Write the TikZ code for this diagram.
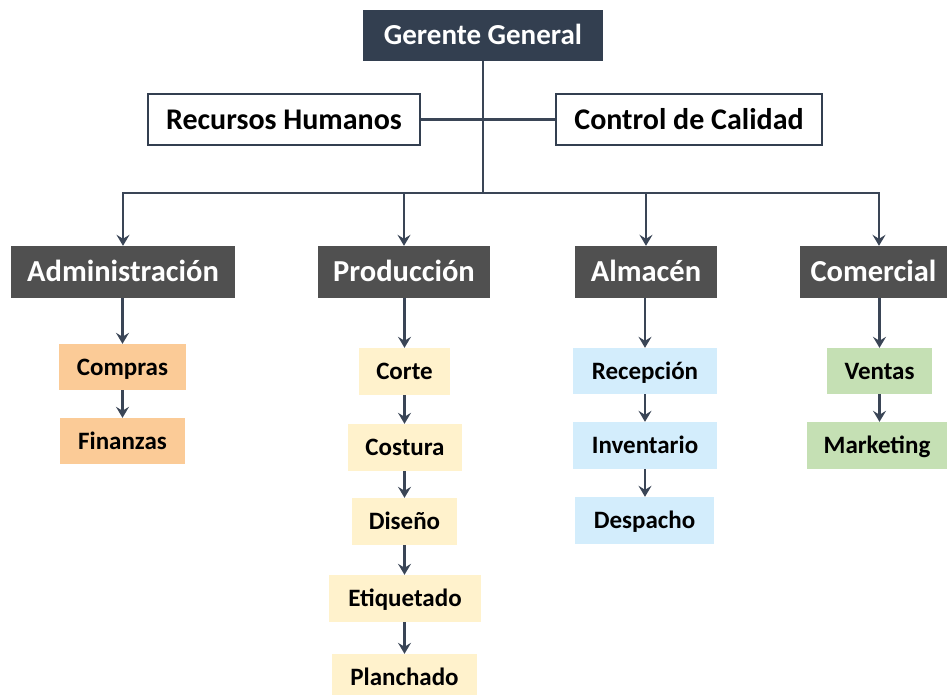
\documentclass[tikz,border=0pt]{standalone}
\usepackage{fontspec}
\setmainfont{Carlito}
\usetikzlibrary{arrows.meta}

\definecolor{navy}{HTML}{333F50}
\definecolor{darkgray}{HTML}{505050}
\definecolor{peach}{HTML}{FBCB97}
\definecolor{cream}{HTML}{FFF2CC}
\definecolor{skyblue}{HTML}{D3EDFC}
\definecolor{leaf}{HTML}{C5E0B4}
\definecolor{linecol}{HTML}{3A4556}

\tikzset{
  box/.style={rectangle, inner sep=0pt, text height=18pt, text depth=2pt,
    font=\bfseries\fontsize{25}{30}\selectfont},
  topbox/.style={box, fill=navy, text=white, text height=20.8pt, text depth=2.1pt,
    font=\bfseries\fontsize{29}{34}\selectfont},
  staffbox/.style={box, draw=navy, line width=2pt, fill=white, text height=21.5pt, text depth=2.2pt,
    font=\bfseries\fontsize{30}{35}\selectfont},
  areabox/.style={box, fill=darkgray, text=white, text height=21.8pt, text depth=2.2pt,
    font=\bfseries\fontsize{30.5}{36}\selectfont},
  link/.style={draw=linecol, line width=2.3pt},
  arr/.style={link, -{Stealth[length=11pt,width=13pt,inset=4pt]}}
}

\begin{document}
\begin{tikzpicture}[x=1pt, y=-1pt]
\useasboundingbox (0,0) rectangle (947,694);

% TOP
\node[topbox, minimum width=240, minimum height=51] (gg) at (483,35.5) {Gerente General};
\node[staffbox, minimum width=272, minimum height=51] (rh) at (284,119.5) {Recursos Humanos};
\node[staffbox, minimum width=266, minimum height=51] (cc) at (689,119.5) {Control de Calidad};
\coordinate (bus) at (483,193);
\draw[link] (gg) -- (bus);
\draw[link] (rh) -- (cc);

% AREAS
\node[areabox, minimum width=224, minimum height=52] (adm) at (123,272) {Administración};
\node[areabox, minimum width=172, minimum height=52] (prod) at (404,272) {Producción};
\node[areabox, minimum width=142, minimum height=52] (alm) at (646,272) {Almacén};
\node[areabox, minimum width=147, minimum height=52] (com) at (873.5,272) {Comercial};
\draw[arr] (bus) -| (adm);
\draw[arr] (bus) -| (prod);
\draw[arr] (bus) -| (alm);
\draw[arr] (bus) -| ([xshift=5.5]com.north);

% ADMINISTRACION
\node[box, fill=peach, minimum width=127, minimum height=46] (compras) at (122.5,367) {Compras};
\node[box, fill=peach, minimum width=125, minimum height=46] (finanzas) at (122.5,441) {Finanzas};
\draw[arr] (adm.south -| compras) -- (compras);
\draw[arr] (compras) -- (finanzas);

% PRODUCCION
\node[box, fill=cream, minimum width=91, minimum height=47] (corte) at (404.5,371.5) {Corte};
\node[box, fill=cream, minimum width=114, minimum height=47] (costura) at (405,447.5) {Costura};
\node[box, fill=cream, minimum width=105, minimum height=47] (diseno) at (404.5,521.5) {Diseño};
\node[box, fill=cream, minimum width=152, minimum height=47] (etiquetado) at (405,598.5) {Etiquetado};
\node[box, fill=cream, minimum width=145, minimum height=47] (planchado) at (404.5,677.5) {Planchado};
\draw[arr] (prod.south -| corte) -- (corte);
\draw[arr] (corte) -- (costura.north -| corte);
\draw[arr] (costura.south -| corte) -- (diseno.north -| corte);
\draw[arr] (diseno.south -| corte) -- (etiquetado.north -| corte);
\draw[arr] (etiquetado.south -| corte) -- (planchado.north -| corte);

% ALMACEN
\node[box, fill=skyblue, minimum width=144, minimum height=46] (recepcion) at (645,371) {Recepción};
\node[box, fill=skyblue, minimum width=144, minimum height=47] (inventario) at (645,445.5) {Inventario};
\node[box, fill=skyblue, minimum width=139, minimum height=47] (despacho) at (644.5,520.5) {Despacho};
\draw[arr] (alm.south -| recepcion) -- (recepcion);
\draw[arr] (recepcion) -- (inventario);
\draw[arr] (inventario) -- (despacho.north -| inventario);

% COMERCIAL
\node[box, fill=leaf, minimum width=105, minimum height=46] (ventas) at (879.5,371) {Ventas};
\node[box, fill=leaf, minimum width=140, minimum height=47] (marketing) at (877,445.5) {Marketing};
\draw[arr] (com.south -| ventas) -- (ventas);
\draw[arr] (ventas) -- (marketing.north -| ventas);
\end{tikzpicture}
\end{document}
